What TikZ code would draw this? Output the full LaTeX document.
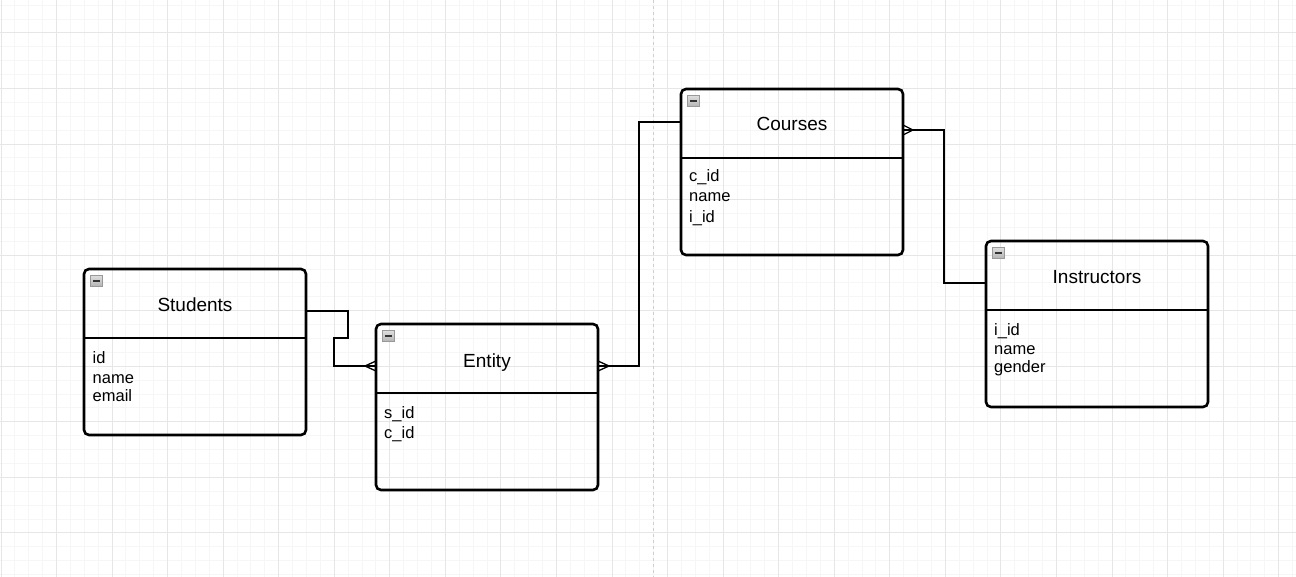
\documentclass[tikz,border=0pt]{standalone}
\usepackage{fontspec}
\setmainfont{Liberation Sans}
\usepackage{tikz}
\usetikzlibrary{positioning}

\definecolor{gridminor}{HTML}{F6F6F6}
\definecolor{gridmajor}{HTML}{E6E6E6}
\definecolor{pagesplit}{HTML}{CFCFCF}

\tikzset{
  tablebox/.style={draw, line width=2.6pt, rounded corners=5pt, minimum width=222pt,
    minimum height=166pt, inner sep=0pt, outer sep=0pt, anchor=north west},
  divider/.style={line width=2.6pt},
  titletext/.style={font=\fontsize{19pt}{22pt}\selectfont, anchor=base, inner sep=0pt},
  attrtext/.style={font=\fontsize{16.5pt}{19pt}\selectfont, anchor=base west, inner sep=0pt},
  minusbox/.style={draw=gray!80, line width=0.9pt, top color=gray!25, bottom color=gray!60, minimum size=11.5pt,
    inner sep=0pt, outer sep=0pt,
    path picture={\draw[line width=1.8pt, black!80]
      ([xshift=-3.5pt]path picture bounding box.center) -- ([xshift=3.5pt]path picture bounding box.center);}},
  link/.style={line width=1.3pt, black},
}

\newcommand{\crowfoot}[2]{\draw[link] ([xshift=#2]#1) -- ([yshift=5pt]#1) ([xshift=#2]#1) -- ([yshift=-5pt]#1);}

\begin{document}
\begin{tikzpicture}[x=1pt, y=-1pt]
  \useasboundingbox (0,0) rectangle (1296,577);

  % Draw grid
  \foreach \i in {0,...,93}
    \draw[gridminor, line width=1pt] ({1+13.8875*\i},0) -- ++(0,577);
  \foreach \j in {-2,...,39}
    \draw[gridminor, line width=1pt] (0,{33+13.8875*\j}) -- ++(1296,0);
  \foreach \i in {0,...,23}
    \draw[gridmajor, line width=1pt] ({1+55.55*\i},0) -- ++(0,577);
  \foreach \j in {0,...,9}
    \draw[gridmajor, line width=1pt] (0,{33+55.55*\j}) -- ++(1296,0);
  \draw[pagesplit, line width=1pt, dash pattern=on 3pt off 3pt] (653,0) -- (653,577);

  % Tables
  \node[tablebox] (students) at (84,269) {};
  \node[tablebox] (entity) at (376,324) {};
  \node[tablebox] (courses) at (681,89) {};
  \node[tablebox] (instructors) at (986,241) {};

  \foreach \t in {students, entity, courses, instructors} {
    \draw[divider] ([yshift=-69pt]\t.north west) -- ([yshift=-69pt]\t.north east);
    \node[minusbox] (\t Min) at ([xshift=12.5pt, yshift=-12pt]\t.north west) {};
  }

  % Titles
  \node[titletext] (studentsTitle) at ([yshift=-43pt]students.north) {Students};
  \node[titletext] (entityTitle) at ([yshift=-43pt]entity.north) {Entity};
  \node[titletext] (coursesTitle) at ([yshift=-42pt]courses.north) {Courses};
  \node[titletext] (instructorsTitle) at ([yshift=-43pt]instructors.north) {Instructors};

  % Attributes
  \node[attrtext] (studentsA) at ([xshift=8.5pt, yshift=-94pt]students.north west) {id};
  \node[attrtext] (studentsB) at ([xshift=8.5pt, yshift=-114pt]students.north west) {name};
  \node[attrtext] (studentsC) at ([xshift=8.5pt, yshift=-132.5pt]students.north west) {email};

  \node[attrtext] (entityA) at ([xshift=8pt, yshift=-94.5pt]entity.north west) {s\_id};
  \node[attrtext] (entityB) at ([xshift=8pt, yshift=-114.5pt]entity.north west) {c\_id};

  \node[attrtext] (coursesA) at ([xshift=8pt, yshift=-93pt]courses.north west) {c\_id};
  \node[attrtext] (coursesB) at ([xshift=8pt, yshift=-113pt]courses.north west) {name};
  \node[attrtext] (coursesC) at ([xshift=8pt, yshift=-133.5pt]courses.north west) {i\_id};

  \node[attrtext] (instructorsA) at ([xshift=8pt, yshift=-94pt]instructors.north west) {i\_id};
  \node[attrtext] (instructorsB) at ([xshift=8pt, yshift=-114pt]instructors.north west) {name};
  \node[attrtext] (instructorsC) at ([xshift=8pt, yshift=-132pt]instructors.north west) {gender};

  % Connectors
  \coordinate (studentsOut) at ([yshift=-42pt]students.north east);
  \coordinate (entityIn) at ([yshift=-42pt]entity.north west);
  \coordinate (entityOut) at ([yshift=-42pt]entity.north east);
  \coordinate (coursesIn) at ([yshift=-33pt]courses.north west);
  \coordinate (coursesOut) at ([yshift=-41pt]courses.north east);
  \coordinate (instructorsIn) at ([yshift=-42pt]instructors.north west);

  \draw[link] (studentsOut) -- ++(42,0) -- ++(0,27) -- ++(-14,0) |- (entityIn);
  \draw[link] (entityOut) -- ++(41,0) |- (coursesIn);
  \draw[link] (coursesOut) -- ++(41,0) |- (instructorsIn);

  \crowfoot{entityIn}{-11pt}
  \crowfoot{entityOut}{11pt}
  \crowfoot{coursesOut}{10pt}

\end{tikzpicture}
\end{document}
